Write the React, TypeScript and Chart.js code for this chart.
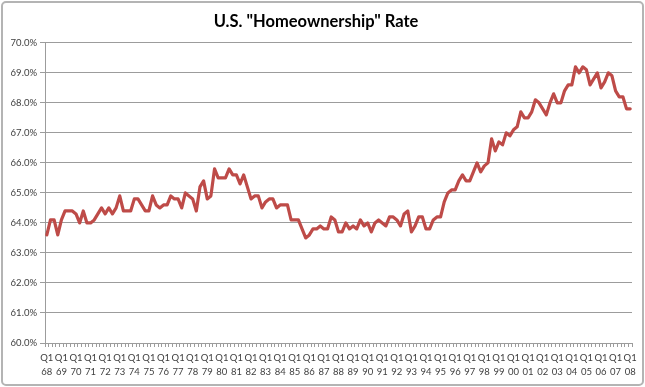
import React, { useEffect, useRef } from "react";
import { Chart, registerables } from "chart.js";

Chart.register(...registerables);

const chartTitle = 'U.S. "Homeownership" Rate';

const quarterNames = ["Q1", "Q2", "Q3", "Q4"];
const yearLabels = [
  "68", "69", "70", "71", "72", "73", "74", "75", "76", "77",
  "78", "79", "80", "81", "82", "83", "84", "85", "86", "87",
  "88", "89", "90", "91", "92", "93", "94", "95", "96", "97",
  "98", "99", "00", "01", "02", "03", "04", "05", "06", "07", "08",
];

// Quarterly homeownership rate (%), Q1 1968 .. Q1 2008
const rate1968to1977 = [
  63.6, 64.1, 64.1, 63.6,
  64.1, 64.4, 64.4, 64.4,
  64.3, 64.0, 64.4, 64.0,
  64.0, 64.1, 64.3, 64.5,
  64.3, 64.5, 64.3, 64.5,
  64.9, 64.4, 64.4, 64.4,
  64.8, 64.8, 64.6, 64.4,
  64.4, 64.9, 64.6, 64.5,
  64.6, 64.6, 64.9, 64.8,
  64.8, 64.5, 65.0, 64.9,
];
const rate1978to1987 = [
  64.8, 64.4, 65.2, 65.4,
  64.8, 64.9, 65.8, 65.5,
  65.5, 65.5, 65.8, 65.6,
  65.6, 65.3, 65.6, 65.2,
  64.8, 64.9, 64.9, 64.5,
  64.7, 64.8, 64.8, 64.5,
  64.6, 64.6, 64.6, 64.1,
  64.1, 64.1, 63.8, 63.5,
  63.6, 63.8, 63.8, 63.9,
  63.8, 63.8, 64.2, 64.1,
];
const rate1988to1997 = [
  63.7, 63.7, 64.0, 63.8,
  63.9, 63.8, 64.1, 63.9,
  64.0, 63.7, 64.0, 64.1,
  64.0, 63.9, 64.2, 64.2,
  64.1, 63.9, 64.3, 64.4,
  63.7, 63.9, 64.2, 64.2,
  63.8, 63.8, 64.1, 64.2,
  64.2, 64.7, 65.0, 65.1,
  65.1, 65.4, 65.6, 65.4,
  65.4, 65.7, 66.0, 65.7,
];
const rate1998to2008 = [
  65.9, 66.0, 66.8, 66.4,
  66.7, 66.6, 67.0, 66.9,
  67.1, 67.2, 67.7, 67.5,
  67.5, 67.7, 68.1, 68.0,
  67.8, 67.6, 68.0, 68.3,
  68.0, 68.0, 68.4, 68.6,
  68.6, 69.2, 69.0, 69.2,
  69.1, 68.6, 68.8, 69.0,
  68.5, 68.7, 69.0, 68.9,
  68.4, 68.2, 68.2, 67.8,
  67.8,
];

const rateValues = [
  ...rate1968to1977,
  ...rate1978to1987,
  ...rate1988to1997,
  ...rate1998to2008,
];

const categoryLabels: string[] = [];
yearLabels.forEach((yr, yi) => {
  quarterNames.forEach((q) => {
    if (yi < yearLabels.length - 1 || q === "Q1") categoryLabels.push(q + " " + yr);
  });
});

const axisGray = "#9c9c9c";
const tickColor = "#404040";
const fontFamily = "Lato, 'Open Sans', 'DejaVu Sans', sans-serif";

export default function App() {
  const canvasRef = useRef<HTMLCanvasElement | null>(null);

  useEffect(() => {
    const canvas = canvasRef.current;
    if (!canvas) return;
    const chart = new Chart(canvas, {
      type: "line",
      data: {
        labels: categoryLabels,
        datasets: [
          {
            data: rateValues,
            borderColor: "#BE4B48",
            backgroundColor: "#BE4B48",
            borderWidth: 3.2,
            pointRadius: 0,
            pointHoverRadius: 0,
            tension: 0,
            fill: false,
            borderJoinStyle: "round",
            borderCapStyle: "round",
          },
        ],
      },
      options: {
        animation: false,
        responsive: false,
        maintainAspectRatio: false,
        layout: { padding: { left: 0, right: 13, top: 0, bottom: 0 } },
        plugins: {
          legend: { display: false },
          tooltip: { enabled: false },
          title: {
            display: true,
            text: chartTitle,
            color: "#000",
            font: { family: fontFamily, size: 16.5, weight: "bold" },
            padding: { top: 12, bottom: 11 },
          },
        },
        scales: {
          x: {
            type: "category",
            offset: true,
            grid: {
              display: true,
              drawOnChartArea: false,
              drawTicks: true,
              tickLength: 4,
              color: axisGray,
              offset: true,
            },
            border: { display: true, color: axisGray, width: 1 },
            ticks: {
              autoSkip: false,
              maxRotation: 0,
              minRotation: 0,
              padding: 4,
              color: tickColor,
              font: { family: fontFamily, size: 9.5, lineHeight: 1.45 },
              callback: (_v: any, i: number) =>
                i % 4 === 0 ? categoryLabels[i].split(" ") : "",
            },
            afterFit: (scale: any) => {
              scale.height = 44;
            },
          },
          y: {
            min: 60,
            max: 70,
            grid: {
              color: axisGray,
              lineWidth: 1,
              drawTicks: true,
              tickLength: 5,
            },
            border: { display: true, color: axisGray, width: 1 },
            ticks: {
              stepSize: 1,
              padding: 3,
              color: tickColor,
              font: { family: fontFamily, size: 9.5 },
              callback: (v: any) => Number(v).toFixed(1) + "%",
            },
            afterFit: (scale: any) => {
              scale.width = 45;
            },
          },
        },
      },
    });
    return () => chart.destroy();
  }, []);

  return (
    <div
      style={{
        position: "absolute",
        left: 0,
        top: 0,
        width: 645,
        height: 387,
        background: "#fff",
      }}
    >
      <canvas ref={canvasRef} width={645} height={387} style={{ display: "block" }} />
      <div
        style={{
          position: "absolute",
          left: 1,
          top: 1,
          width: 643,
          height: 385,
          boxSizing: "border-box",
          border: "2px solid #b4b4b4",
          borderRadius: 5,
          pointerEvents: "none",
        }}
      />
    </div>
  );
}
